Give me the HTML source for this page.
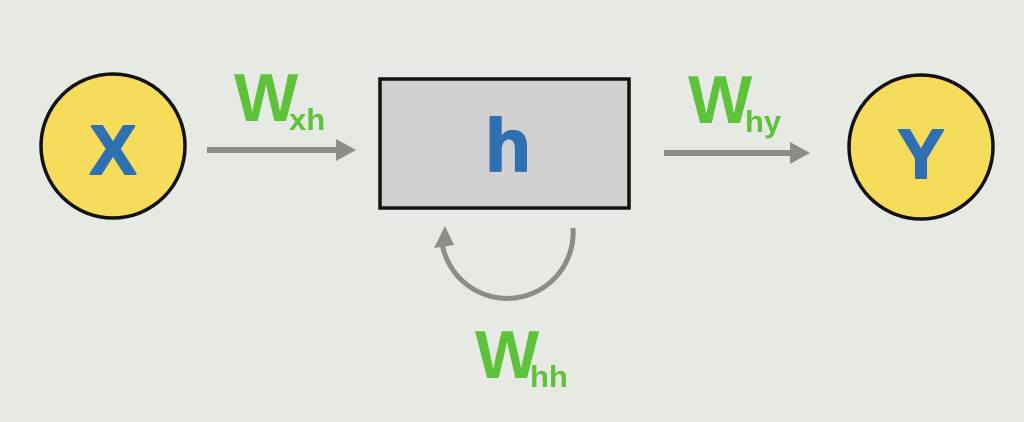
<!DOCTYPE html>
<html><head><style>
html,body{margin:0;padding:0;background:#e7eae4;}
svg{display:block}
text{font-family:"Liberation Sans",sans-serif;font-weight:bold}
</style></head><body>
<svg width="1024" height="422" viewBox="0 0 1024 422" xmlns="http://www.w3.org/2000/svg">
<rect width="1024" height="422" fill="#e7eae4"/>
<circle cx="113" cy="146" r="72" fill="#f6dc5b" stroke="#111" stroke-width="3.5"/>
<circle cx="921" cy="147" r="72" fill="#f6dc5b" stroke="#111" stroke-width="3.5"/>
<rect x="380" y="79" width="249" height="129" fill="#d1d1d1" stroke="#111" stroke-width="3.5"/>
<g fill="#2f70b2" stroke="#2f70b2" stroke-width="2" stroke-linejoin="round" style="font-weight:normal">
<text x="113" y="174" font-size="70" text-anchor="middle">X</text>
<text x="921" y="178" font-size="70" text-anchor="middle">Y</text>
<text x="508" y="171" font-size="74" text-anchor="middle">h</text>
</g>
<line x1="207" y1="150" x2="338" y2="150" stroke="#8a8e89" stroke-width="6"/>
<polygon points="336,139 356,150 336,161" fill="#8a8e89"/>
<line x1="664" y1="153" x2="792" y2="153" stroke="#8a8e89" stroke-width="6"/>
<polygon points="790,142 810,153 790,164" fill="#8a8e89"/>
<path d="M573,228 A66,66 0 0 1 442,243" fill="none" stroke="#8a8e89" stroke-width="5"/>
<polygon points="434,248 445,226 454,245" fill="#8a8e89"/>
<g fill="#5ec33a">
<text x="234" y="121" font-size="68">W</text><text x="289" y="130" font-size="31">xh</text>
<text x="688" y="123" font-size="68">W</text><text x="745" y="132" font-size="31">hy</text>
<text x="475" y="378" font-size="68">W</text><text x="530" y="387" font-size="31">hh</text>
</g>
</svg>
</body></html>
